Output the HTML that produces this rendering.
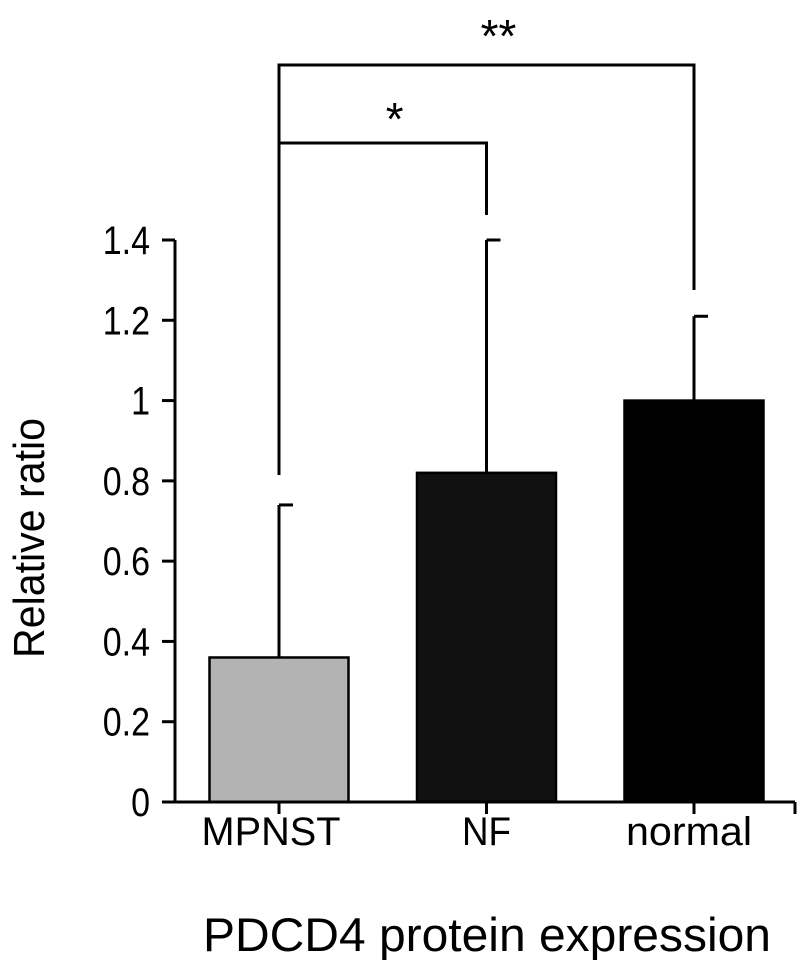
<!DOCTYPE html>
<html><head><meta charset="utf-8"><style>body{margin:0;background:#fff}svg{display:block}</style></head>
<body>
<svg id="chart" width="798" height="960" xmlns="http://www.w3.org/2000/svg" font-family="Liberation Sans, sans-serif"></svg>
<script>
const categories = ["MPNST", "NF", "normal"];
const values = [0.36, 0.82, 1.0];
const errors = [0.74, 1.40, 1.21];
const yTicks = [0, 0.2, 0.4, 0.6, 0.8, 1, 1.2, 1.4];
const yTickLabels = ["0", "0.2", "0.4", "0.6", "0.8", "1", "1.2", "1.4"];

const svg = document.getElementById('chart');
const NS = 'http://www.w3.org/2000/svg';
const x0 = 175, x1 = 795, yBase = 802, yTop = 240;
const y = v => yBase - (v / 1.4) * (yBase - yTop);
const cx = i => 279 + i * 207.5;
const bw = 139;
const fills = ["#b3b3b3", "#111", "#000"];
const labelW = [139, 49, 126];
const labelDx = [-8, 0, -5];
function mk(tag, attrs, name) {
  const e = document.createElementNS(NS, tag);
  for (const k in attrs) e.setAttribute(k, attrs[k]);
  
  
  svg.appendChild(e);
  return e;
}
function condense(t, f) {
  const w = t.getComputedTextLength();
  t.setAttribute('textLength', w * f);
  t.setAttribute('lengthAdjust', 'spacingAndGlyphs');
}
values.forEach((v, i) => {
  const top = y(v);
  mk('line', {x1: cx(i), x2: cx(i), y1: top, y2: y(errors[i]), stroke: '#000', 'stroke-width': 3}, 'error-bar-' + categories[i].toLowerCase());
  mk('line', {x1: cx(i), x2: cx(i) + 14, y1: y(errors[i]), y2: y(errors[i]), stroke: '#000', 'stroke-width': 3}, 'error-cap-' + categories[i].toLowerCase());
  mk('rect', {x: cx(i) - bw / 2, y: top, width: bw, height: yBase - top, fill: fills[i], stroke: '#000', 'stroke-width': 2.5}, 'bar-' + categories[i].toLowerCase());
  const t = mk('text', {x: cx(i) + labelDx[i], y: 845, 'font-size': 40, 'text-anchor': 'middle', textLength: labelW[i], lengthAdjust: 'spacingAndGlyphs'}, 'x-label-' + categories[i].toLowerCase());
  t.textContent = categories[i];
  mk('line', {x1: cx(i), x2: cx(i), y1: yBase, y2: yBase + 12, stroke: '#000', 'stroke-width': 3}, 'x-tick');
});
mk('line', {x1: x0, x2: x0, y1: yTop, y2: yBase, stroke: '#000', 'stroke-width': 3}, 'y-axis');
mk('line', {x1: x0 - 13, x2: x1, y1: yBase, y2: yBase, stroke: '#000', 'stroke-width': 3}, 'x-axis');
mk('line', {x1: x1, x2: x1, y1: yBase, y2: yBase + 12, stroke: '#000', 'stroke-width': 3}, 'x-tick-end');
yTicks.forEach((v, i) => {
  mk('line', {x1: x0 - 13, x2: x0, y1: y(v), y2: y(v), stroke: '#000', 'stroke-width': 3}, 'y-tick');
  const t = mk('text', {x: 150, y: y(v) + 14, 'font-size': 40, 'text-anchor': 'end'}, 'y-tick-label');
  t.textContent = yTickLabels[i];
  condense(t, 0.85);
});
mk('polyline', {points: `${cx(0)},475 ${cx(0)},143 ${cx(1)},143 ${cx(1)},215`, fill: 'none', stroke: '#000', 'stroke-width': 3}, 'significance-bracket-nf');
mk('polyline', {points: `${cx(0)},143 ${cx(0)},65 ${cx(2)},65 ${cx(2)},290`, fill: 'none', stroke: '#000', 'stroke-width': 3}, 'significance-bracket-normal');
let s = mk('text', {x: (cx(0) + cx(1)) / 2 + 10, y: 135, 'font-size': 46, 'text-anchor': 'middle', 'font-style': 'italic'}, 'significance-star-nf'); s.textContent = '*';
s = mk('text', {x: (cx(0) + cx(2)) / 2 + 10, y: 52, 'font-size': 46, 'text-anchor': 'middle', 'font-style': 'italic'}, 'significance-star-normal'); s.textContent = '**';
let t = mk('text', {x: 44, y: 538, 'font-size': 44, 'text-anchor': 'middle', transform: 'rotate(-90 44 538)', textLength: 240, lengthAdjust: 'spacingAndGlyphs'}, 'y-axis-title'); t.textContent = 'Relative ratio';
t = mk('text', {x: 487, y: 951, 'font-size': 47, 'text-anchor': 'middle', textLength: 568, lengthAdjust: 'spacingAndGlyphs'}, 'x-axis-title'); t.textContent = 'PDCD4 protein expression';
</script>
</body></html>
